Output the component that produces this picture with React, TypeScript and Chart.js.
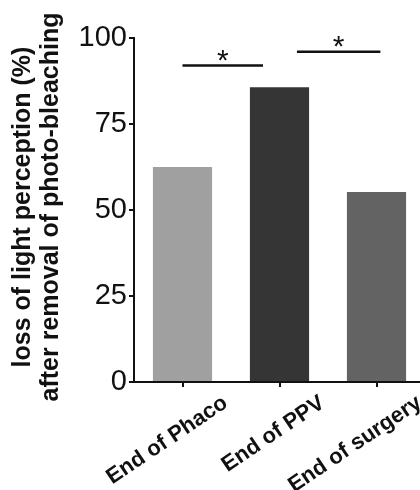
import React, { useEffect, useRef } from "react";
import { Chart, registerables } from "chart.js";

Chart.register(...registerables);

// ---- data ----
const categories = ["End of Phaco", "End of PPV", "End of surgery"];
const values = [62.5, 85.7, 55.2];
const barColors = ["#a0a0a0", "#353535", "#636363"];
const yTicks = [0, 25, 50, 75, 100];
const yTitleLines = ["loss of light perception (%)", "after removal of photo-bleaching"];
// significance brackets (x in category index units, y in data units)
const sigFrom = [0, 1.18];
const sigTo = [0.83, 2.04];
const sigLevel = [92, 96];
const sigLabels = ["*", "*"];

const FONT = '"Liberation Sans", Arial, Helvetica, sans-serif';
const INK = "#111111";

const overlayPlugin = {
  id: "overlay",
  afterDraw(chart: any) {
    const ctx = chart.ctx as CanvasRenderingContext2D;
    const xs = chart.scales.x;
    const ys = chart.scales.y;
    const area = chart.chartArea;
    ctx.save();
    // significance bars
    ctx.strokeStyle = INK;
    ctx.fillStyle = INK;
    ctx.lineWidth = 2.5;
    sigFrom.forEach((f, i) => {
      const x1 = xs.getPixelForValue(f);
      const x2 = xs.getPixelForValue(sigTo[i]);
      const yy = ys.getPixelForValue(sigLevel[i]);
      ctx.beginPath();
      ctx.moveTo(x1, yy);
      ctx.lineTo(x2, yy);
      ctx.stroke();
      ctx.font = `30px ${FONT}`;
      ctx.textAlign = "center";
      ctx.textBaseline = "alphabetic";
      ctx.fillText(sigLabels[i], (x1 + x2) / 2, yy + 4);
    });
    // y axis title (two lines, rotated)
    const cy = (area.top + area.bottom) / 2 - 3;
    ctx.translate(0, cy);
    ctx.rotate(-Math.PI / 2);
    ctx.font = `bold 25px ${FONT}`;
    ctx.textAlign = "center";
    ctx.textBaseline = "middle";
    const lineX = [23, 51];
    yTitleLines.forEach((t, i) => {
      ctx.fillText(t, 0, lineX[i]);
    });
    ctx.restore();
  },
};

export default function App() {
  const ref = useRef<HTMLCanvasElement | null>(null);
  useEffect(() => {
    if (!ref.current) return;
    const chart = new Chart(ref.current, {
      type: "bar",
      data: {
        labels: categories,
        datasets: [
          {
            data: values,
            backgroundColor: barColors,
            borderWidth: 0,
            barPercentage: 0.61,
            categoryPercentage: 1,
          },
        ],
      },
      options: {
        responsive: false,
        animation: false,
        devicePixelRatio: 1,
        layout: { padding: { top: 38, right: 5, left: 0, bottom: 0 } },
        plugins: { legend: { display: false }, tooltip: { enabled: false } },
        scales: {
          x: {
            offset: true,
            grid: {
              display: true,
              drawOnChartArea: false,
              offset: false,
              tickLength: 5,
              color: INK,
              lineWidth: 2,
            },
            border: { display: true, color: INK, width: 2 },
            ticks: {
              font: { family: FONT, size: 22, weight: "bold" },
              color: INK,
              minRotation: 34,
              maxRotation: 34,
              labelOffset: 43,
              padding: 3,
              autoSkip: false,
            },
            afterFit: (s: any) => {
              s.height = 108;
            },
          },
          y: {
            min: 0,
            max: 100,
            grid: {
              display: true,
              drawOnChartArea: false,
              tickLength: 5,
              color: INK,
              lineWidth: 2,
            },
            border: { display: true, color: INK, width: 2 },
            ticks: {
              font: { family: FONT, size: 29 },
              color: INK,
              padding: 2,
            },
            afterBuildTicks: (s: any) => {
              s.ticks = yTicks.map((v) => ({ value: v }));
            },
            afterFit: (s: any) => {
              s.width = 134;
            },
          },
        },
      },
      plugins: [overlayPlugin],
    });
    return () => chart.destroy();
  }, []);
  return (
    <div
      style={{
        position: "fixed",
        left: 0,
        top: 0,
        width: 420,
        height: 490,
        overflow: "hidden",
        background: "#fff",
      }}
    >
      <canvas ref={ref} width={430} height={490} style={{ display: "block" }} />
    </div>
  );
}
